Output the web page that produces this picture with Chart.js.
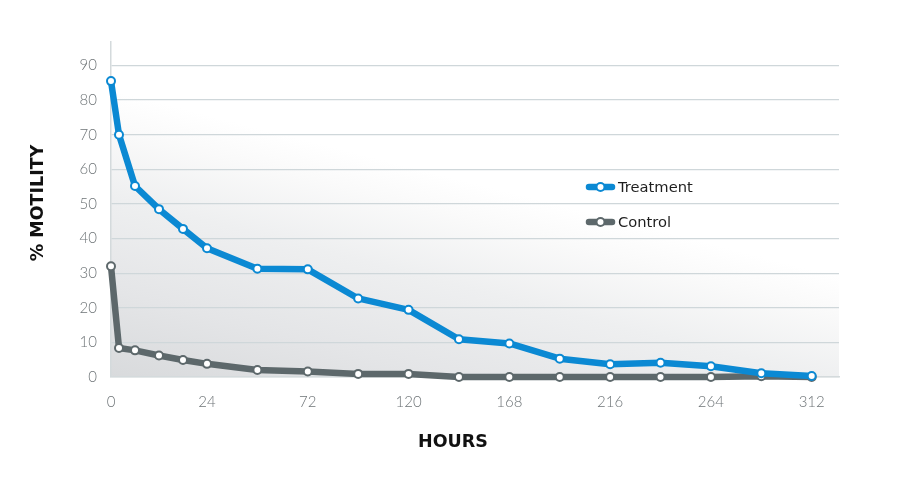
<!DOCTYPE html>
<html>
<head>
<meta charset="utf-8">
<script src="https://cdn.jsdelivr.net/npm/chart.js@4.4.1/dist/chart.umd.min.js"></script>
<style>
  html, body { margin: 0; padding: 0; background: #ffffff; }
  #wrap { width: 900px; height: 488px; position: relative; }
</style>
</head>
<body>
<div id="wrap"><canvas id="c" width="900" height="488"></canvas></div>
<script>
// ---- data ----
const hours = [0, 2, 6, 12, 18, 24, 48, 72, 96, 120, 144, 168, 192, 216, 240, 264, 288, 312];
const treatment = [85.5, 70, 55.2, 48.5, 42.8, 37.2, 31.3, 31.1, 22.7, 19.4, 10.9, 9.7, 5.3, 3.7, 4.1, 3.1, 1.1, 0.3];
const control = [32, 8.4, 7.7, 6.2, 4.9, 3.8, 2.0, 1.6, 0.9, 0.9, 0, 0, 0, 0, 0, 0, 0.2, 0];
const xTicks = [0, 24, 72, 120, 168, 216, 264, 312];
const yTicks = [0, 10, 20, 30, 40, 50, 60, 70, 80, 90];
const seriesNames = ['Treatment', 'Control'];
const seriesColors = ['#0b89d3', '#5d686b'];
const xTitle = 'HOURS';
const yTitle = '% MOTILITY';

// piecewise-linear scale: first day shown wider than later days
const xBreaks = [0, 24, 325];
const xFractions = [0, 96 / 728, 1];

class PiecewiseScale extends Chart.LinearScale {
  _frac(v) {
    for (let i = 0; i < xBreaks.length - 1; i++) {
      if (v <= xBreaks[i + 1] || i === xBreaks.length - 2) {
        const t = (v - xBreaks[i]) / (xBreaks[i + 1] - xBreaks[i]);
        return xFractions[i] + t * (xFractions[i + 1] - xFractions[i]);
      }
    }
    return 0;
  }
  getPixelForValue(v) { return this.getPixelForDecimal(this._frac(v)); }
  getValueForPixel(p) {
    const f = this.getDecimalForPixel(p);
    for (let i = 0; i < xFractions.length - 1; i++) {
      if (f <= xFractions[i + 1] || i === xFractions.length - 2) {
        const t = (f - xFractions[i]) / (xFractions[i + 1] - xFractions[i]);
        return xBreaks[i] + t * (xBreaks[i + 1] - xBreaks[i]);
      }
    }
    return 0;
  }
}
PiecewiseScale.id = 'piecewise';
PiecewiseScale.defaults = Chart.LinearScale.defaults;
Chart.register(PiecewiseScale);

const bgPlugin = {
  id: 'bgGradient',
  beforeDraw(chart) {
    const { ctx, chartArea: a } = chart;
    const w = a.right - a.left, h = a.bottom - a.top;
    const g = ctx.createLinearGradient(a.left + 0.1 * w, a.top + 0.2 * h, a.left, a.bottom + 0.05 * h);
    g.addColorStop(0, '#ffffff');
    g.addColorStop(0.12, '#fafafa');
    g.addColorStop(0.35, '#eeeff0');
    g.addColorStop(0.66, '#e4e5e7');
    g.addColorStop(1, '#d6d8da');
    ctx.save();
    ctx.fillStyle = g;
    ctx.fillRect(a.left, a.top, w, h);
    ctx.restore();
  }
};

const titlePlugin = {
  id: 'axisTitles',
  afterDraw(chart) {
    const { ctx } = chart;
    ctx.save();
    ctx.fillStyle = '#111111';
    ctx.font = 'bold 17.5px "DejaVu Sans", sans-serif';
    ctx.textAlign = 'center';
    ctx.textBaseline = 'middle';
    ctx.fillText(xTitle, 453, 442);
    ctx.translate(38, 203);
    ctx.rotate(-Math.PI / 2);
    ctx.fillText(yTitle, 0, 0);
    ctx.restore();
  }
};

const legendPlugin = {
  id: 'customLegend',
  afterDraw(chart) {
    const { ctx } = chart;
    const x0 = 587, rowY = [187, 222];
    chart.data.datasets.forEach((ds, i) => {
      const y = rowY[i];
      ctx.save();
      ctx.strokeStyle = ds.borderColor;
      ctx.lineWidth = 6.5;
      ctx.lineCap = 'round';
      ctx.beginPath();
      ctx.moveTo(x0 + 2, y);
      ctx.lineTo(x0 + 25, y);
      ctx.stroke();
      ctx.beginPath();
      ctx.arc(x0 + 13.5, y, 4, 0, Math.PI * 2);
      ctx.fillStyle = '#ffffff';
      ctx.fill();
      ctx.lineWidth = 2;
      ctx.stroke();
      ctx.fillStyle = '#1e1e1e';
      ctx.font = '14.7px "DejaVu Sans", sans-serif';
      ctx.textBaseline = 'middle';
      ctx.textAlign = 'left';
      ctx.fillText(ds.label, x0 + 31, y + 1);
      ctx.restore();
    });
  }
};

const datasets = [treatment, control].map((vals, i) => ({
  label: seriesNames[i],
  data: hours.map((h, j) => ({ x: h, y: vals[j] })),
  borderColor: seriesColors[i],
  backgroundColor: '#ffffff',
  borderWidth: 6.5,
  pointRadius: 4,
  pointBorderWidth: 2,
  pointBackgroundColor: '#ffffff',
  pointBorderColor: seriesColors[i],
  pointHoverRadius: 4,
  tension: 0,
  clip: false,
  borderJoinStyle: 'round',
  borderCapStyle: 'round'
}));

const tickFont = { family: 'Lato, "Noto Sans", sans-serif', size: 15, weight: '300' };

new Chart(document.getElementById('c'), {
  type: 'line',
  data: { datasets },
  options: {
    responsive: false,
    animation: false,
    devicePixelRatio: 1,
    layout: { padding: { left: 0, right: 61, top: 42, bottom: 0 } },
    plugins: {
      legend: { display: false },
      tooltip: { enabled: false }
    },
    scales: {
      x: {
        type: 'piecewise',
        min: 0,
        max: 325,
        afterFit(s) { s.height = 111; },
        afterBuildTicks(s) { s.ticks = xTicks.map(v => ({ value: v })); },
        grid: { display: false, drawTicks: false },
        border: { display: true, color: '#d4dadc', width: 1.5 },
        ticks: {
          padding: 16,
          maxRotation: 0,
          autoSkip: false,
          color: '#6e7477',
          font: tickFont
        },
        title: { display: false, text: xTitle }
      },
      y: {
        min: 0,
        max: 96.8,
        afterFit(s) { s.width = 111; },
        afterBuildTicks(s) { s.ticks = yTicks.map(v => ({ value: v })); },
        grid: { color: '#cfd7da', lineWidth: 1.3, drawTicks: false },
        border: { display: true, color: '#d4dadc', width: 1.5 },
        ticks: {
          padding: 14,
          color: '#6e7477',
          font: tickFont
        },
        title: { display: false, text: yTitle }
      }
    }
  },
  plugins: [bgPlugin, legendPlugin, titlePlugin]
});
</script>
</body>
</html>
